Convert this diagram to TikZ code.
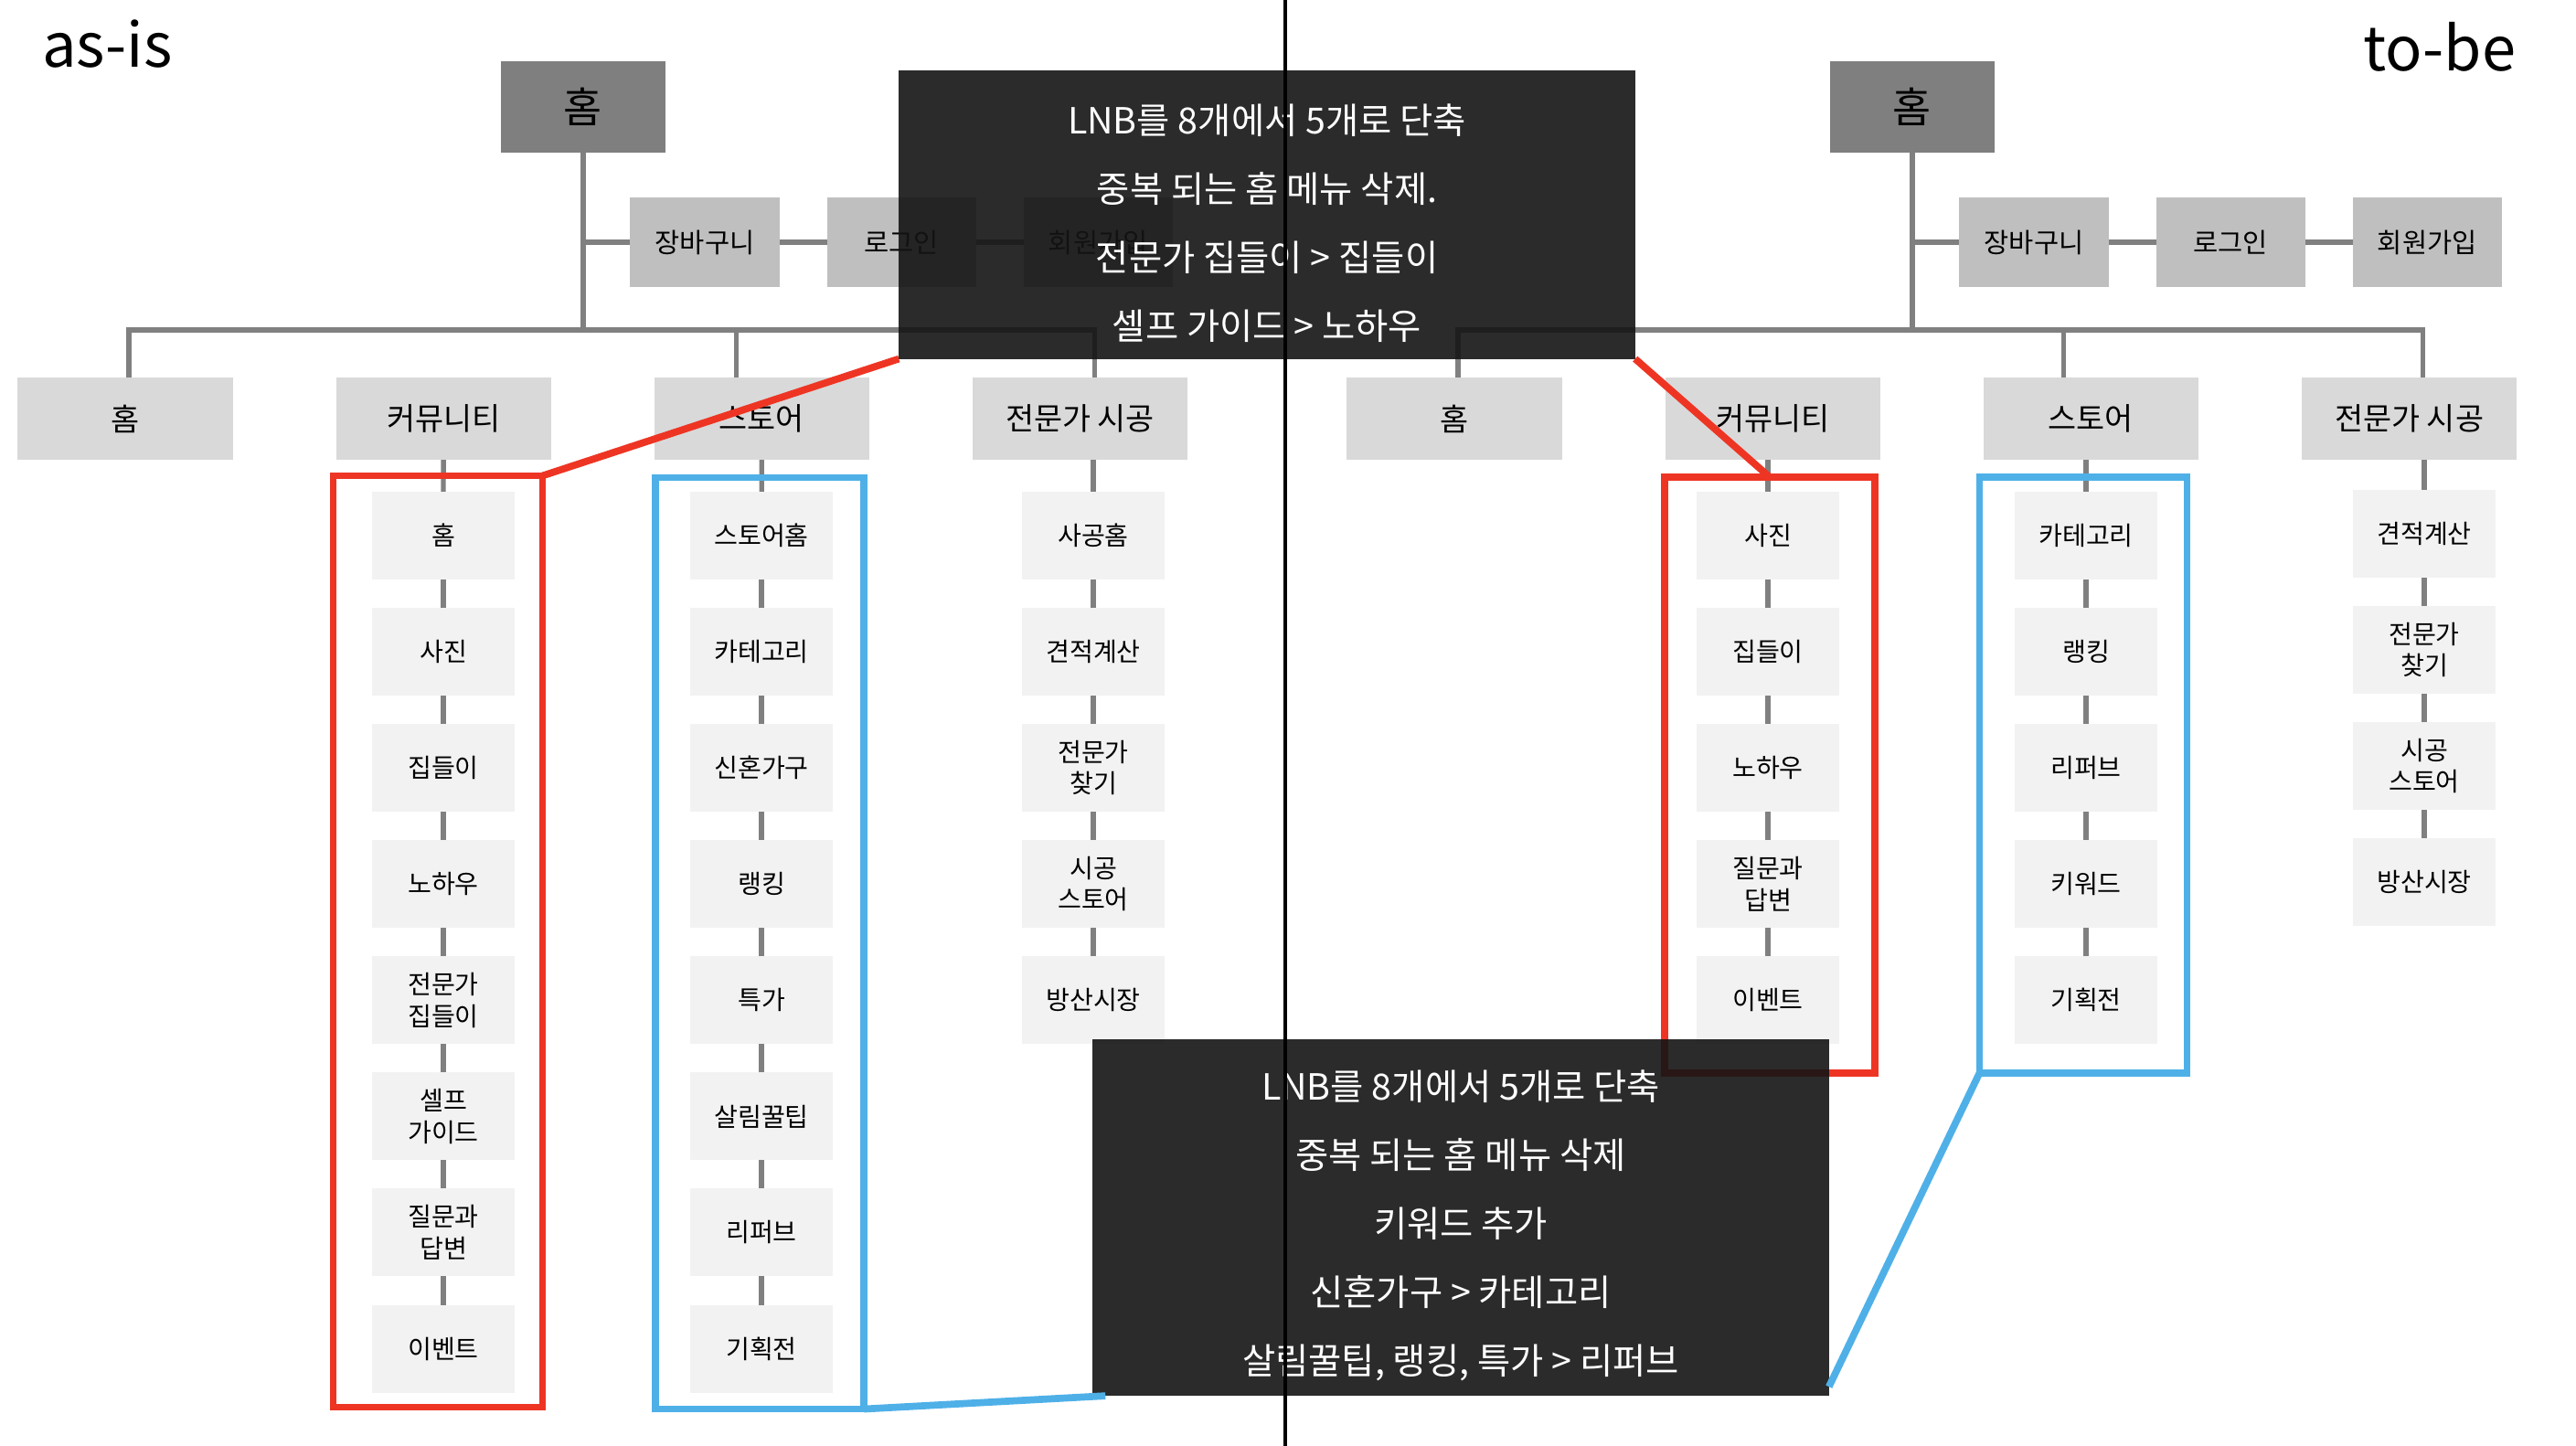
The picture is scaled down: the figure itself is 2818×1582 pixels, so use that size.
\documentclass[tikz,border=0pt]{standalone}
\usepackage{fontspec}
\setmainfont{Noto Sans CJK KR}
\usetikzlibrary{arrows,positioning}

\definecolor{rootgray}{HTML}{7F7F7F}
\definecolor{utilgray}{HTML}{BFBFBF}
\definecolor{menugray}{HTML}{D9D9D9}
\definecolor{subgray}{HTML}{F2F2F2}
\definecolor{linegray}{HTML}{808080}
\definecolor{hlred}{HTML}{EE3524}
\definecolor{hlblue}{HTML}{4FB0E8}
\definecolor{notegray}{HTML}{141414}

\begin{document}
\begin{tikzpicture}[x=0.01cm, y=-0.01cm, node distance=1.27cm, auto,
    every node/.style={inner sep=0pt, outer sep=0pt},
    every edge/.style={draw=linegray, line width=1.5pt},
    link/.style={draw=linegray, line width=1.5pt},
    root/.style={fill=rootgray, minimum width=1.8cm, minimum height=1cm, font=\fontsize{13}{15}\selectfont},
    util/.style={fill=utilgray, minimum width=1.63cm, minimum height=0.97cm, font=\fontsize{8.4}{10}\selectfont},
    menu/.style={fill=menugray, minimum width=2.35cm, minimum height=0.9cm, font=\fontsize{9.6}{11}\selectfont},
    sub/.style={fill=subgray, minimum width=1.56cm, minimum height=0.96cm, align=center, font=\fontsize{8}{9.8}\selectfont},
    frame/.style={line width=2.2pt, minimum width=2.29cm},
    note/.style={fill=notegray, fill opacity=0.9, minimum width=8.05cm},
    notetext/.style={text=white, align=center, font=\fontsize{11.2}{21.3}\selectfont},
    title/.style={font=\fontsize{19}{23}\selectfont},
]

    \fill[white] (0,0) rectangle (2818,1582);
    \useasboundingbox (0,0) rectangle (2818,1582);

    % as-is
    \node[title, anchor=base west] (asis) at (46,74) {as-is};
    \node[root] (home) at (638,117) {홈};
    \node[util] (cart) at (771,265) {장바구니};
    \node[util, right of=cart, node distance=2.15cm] (login) {로그인};
    \node[util, right of=login, node distance=2.15cm] (join) {회원가입};
    \draw[link] (home |- cart) -- (cart) -- (login) -- (join);

    \node[menu] (m_home) at (137,458) {홈};
    \node[menu, right of=m_home, node distance=3.48cm] (m_comm) {커뮤니티};
    \node[menu, right of=m_comm, node distance=3.48cm] (m_store) {스토어};
    \node[menu, right of=m_store, node distance=3.48cm] (m_pro) {전문가 시공};

    \coordinate (bar) at (638,361);
    \draw[link] (home) -- (bar);
    \draw[link] ([xshift=0.04cm]m_home.north) |- (bar) -| ([xshift=0.16cm]m_pro.north);
    \draw[link] ([xshift=-0.28cm]m_store.north) |- (bar);

    \node[sub] (comm_home) at (485,586) {홈} edge (m_comm);
    \node[sub, below of=comm_home] (comm_photo) {사진} edge (comm_home);
    \node[sub, below of=comm_photo] (comm_house) {집들이} edge (comm_photo);
    \node[sub, below of=comm_house] (comm_howto) {노하우} edge (comm_house);
    \node[sub, below of=comm_howto] (comm_prohouse) {전문가\\집들이} edge (comm_howto);
    \node[sub, below of=comm_prohouse] (comm_guide) {셀프\\가이드} edge (comm_prohouse);
    \node[sub, below of=comm_guide] (comm_qna) {질문과\\답변} edge (comm_guide);
    \node[sub, below of=comm_qna] (comm_event) {이벤트} edge (comm_qna);

    \node[sub] (store_home) at (833,586) {스토어홈} edge (m_store);
    \node[sub, below of=store_home] (store_cate) {카테고리} edge (store_home);
    \node[sub, below of=store_cate] (store_bridal) {신혼가구} edge (store_cate);
    \node[sub, below of=store_bridal] (store_rank) {랭킹} edge (store_bridal);
    \node[sub, below of=store_rank] (store_deal) {특가} edge (store_rank);
    \node[sub, below of=store_deal] (store_tips) {살림꿀팁} edge (store_deal);
    \node[sub, below of=store_tips] (store_refurb) {리퍼브} edge (store_tips);
    \node[sub, below of=store_refurb] (store_plan) {기획전} edge (store_refurb);

    \node[sub] (pro_home) at (1196,586) {사공홈};
    \draw[link] (pro_home) -- (pro_home |- m_pro.south);
    \node[sub, below of=pro_home] (pro_est) {견적계산} edge (pro_home);
    \node[sub, below of=pro_est] (pro_find) {전문가\\찾기} edge (pro_est);
    \node[sub, below of=pro_find] (pro_shop) {시공\\스토어} edge (pro_find);
    \node[sub, below of=pro_shop] (pro_market) {방산시장} edge (pro_shop);

    \node[frame, draw=hlred, minimum height=10.185cm] (comm_box) at (479,1030) {};
    \node[frame, draw=hlblue, minimum width=2.28cm, minimum height=10.185cm] (store_box) at (831,1032) {};

    % to-be
    \node[title, anchor=base east] (tobe) at (2752,78) {to-be};
    \node[root] (home2) at (2092,117) {홈};
    \node[util] (cart2) at (2225,265) {장바구니};
    \node[util, right of=cart2, node distance=2.15cm] (login2) {로그인};
    \node[util, right of=login2, node distance=2.15cm] (join2) {회원가입};
    \draw[link] (home2 |- cart2) -- (cart2) -- (login2) -- (join2);

    \node[menu] (m2_home) at (1591,458) {홈};
    \node[menu, right of=m2_home, node distance=3.48cm] (m2_comm) {커뮤니티};
    \node[menu, right of=m2_comm, node distance=3.48cm] (m2_store) {스토어};
    \node[menu, right of=m2_store, node distance=3.48cm] (m2_pro) {전문가 시공};

    \coordinate (bar2) at (2092,361);
    \draw[link] (home2) -- (bar2);
    \draw[link] ([xshift=0.04cm]m2_home.north) |- (bar2) -| ([xshift=0.15cm]m2_pro.north);
    \draw[link] ([xshift=-0.3cm]m2_store.north) |- (bar2);

    \node[sub] (comm2_photo) at (1934,586) {사진};
    \draw[link] (comm2_photo) -- (comm2_photo |- m2_comm.south);
    \node[sub, below of=comm2_photo] (comm2_house) {집들이} edge (comm2_photo);
    \node[sub, below of=comm2_house] (comm2_howto) {노하우} edge (comm2_house);
    \node[sub, below of=comm2_howto] (comm2_qna) {질문과\\답변} edge (comm2_howto);
    \node[sub, below of=comm2_qna] (comm2_event) {이벤트} edge (comm2_qna);

    \node[sub] (store2_cate) at (2282,586) {카테고리};
    \draw[link] (store2_cate) -- (store2_cate |- m2_store.south);
    \node[sub, below of=store2_cate] (store2_rank) {랭킹} edge (store2_cate);
    \node[sub, below of=store2_rank] (store2_refurb) {리퍼브} edge (store2_rank);
    \node[sub, below of=store2_refurb] (store2_keyword) {키워드} edge (store2_refurb);
    \node[sub, below of=store2_keyword] (store2_plan) {기획전} edge (store2_keyword);

    \node[sub] (pro2_est) at (2652,584) {견적계산};
    \draw[link] (pro2_est) -- (pro2_est |- m2_pro.south);
    \node[sub, below of=pro2_est] (pro2_find) {전문가\\찾기} edge (pro2_est);
    \node[sub, below of=pro2_find] (pro2_shop) {시공\\스토어} edge (pro2_find);
    \node[sub, below of=pro2_shop] (pro2_market) {방산시장} edge (pro2_shop);

    \node[frame, draw=hlred, minimum width=2.3cm, minimum height=6.515cm] (comm2_box) at (1936,848) {};
    \node[frame, draw=hlblue, minimum width=2.27cm, minimum height=6.515cm] (store2_box) at (2279,848) {};

    % summaries
    \node[note, minimum height=3.15cm] (note_top) at (1386,235) {};
    \node[notetext] (note_top_text) at ([yshift=-0.09cm]note_top.center) {LNB를 8개에서 5개로 단축\\중복 되는 홈 메뉴 삭제.\\전문가 집들이 > 집들이\\셀프 가이드 > 노하우};
    \node[note, minimum height=3.9cm] (note_bot) at (1598,1332) {};
    \node[notetext] (note_bot_text) at ([yshift=-0.09cm]note_bot.center) {LNB를 8개에서 5개로 단축\\중복 되는 홈 메뉴 삭제\\키워드 추가\\신혼가구 > 카테고리\\살림꿀팁, 랭킹, 특가 > 리퍼브};

    \draw[hlred, line width=2.2pt] (comm_box.north east) -- (note_top.south west);
    \draw[hlred, line width=2.2pt] (note_top.south east) -- (comm2_box.north);
    \draw[hlblue, line width=2.2pt] (store_box.south east) -- ([xshift=0.14cm]note_bot.south west);
    \draw[hlblue, line width=2.2pt] ([yshift=0.1cm]note_bot.south east) -- (store2_box.south west);

    \coordinate (split_top) at (1406,0);
    \coordinate (split_bot) at (1406,1582);
    \draw[line width=1.4pt] (split_top) -- (split_bot);

\end{tikzpicture}
\end{document}
